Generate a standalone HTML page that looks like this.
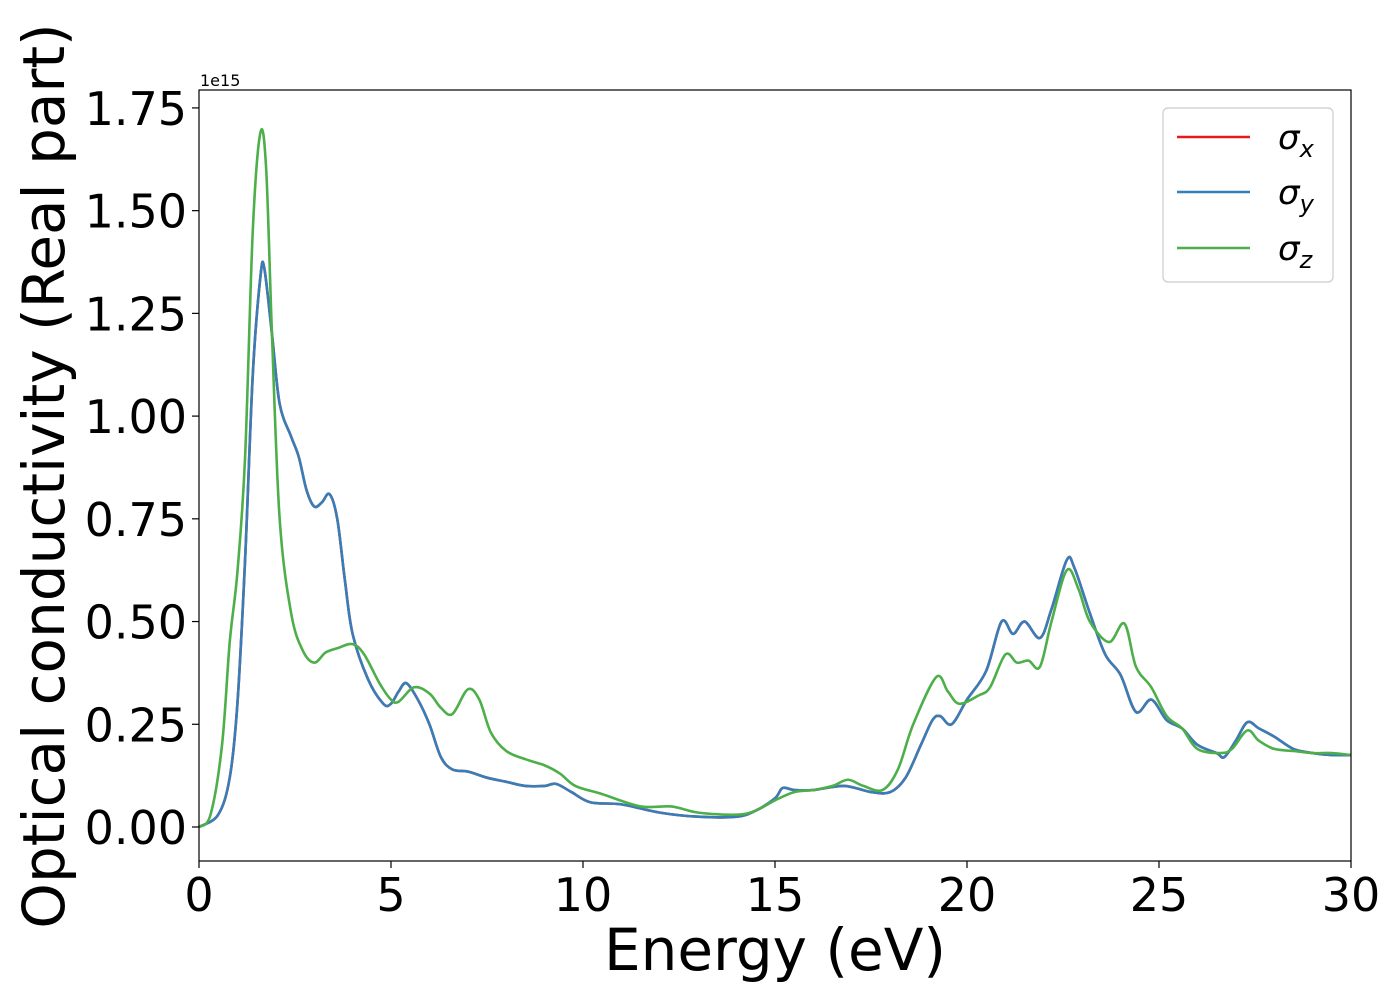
<!DOCTYPE html>
<html><head><meta charset="utf-8"><style>body{margin:0;background:#fff}</style></head>
<body>
<svg id="chart" width="1400" height="1000" xmlns="http://www.w3.org/2000/svg" font-family="DejaVu Sans, Liberation Sans, sans-serif"></svg>
<script>
const energyX=[0,0.5,0.8,1.0,1.2,1.4,1.6,1.7,1.9,2.1,2.4,2.6,2.8,3.0,3.2,3.4,3.6,3.8,4.0,4.4,4.8,5.0,5.2,5.4,5.7,6.0,6.3,6.6,7.0,7.5,8.0,8.5,9.0,9.3,9.7,10.2,11,12,13,14,14.5,15,15.2,15.5,16,16.8,17.5,18,18.4,18.8,19.1,19.3,19.6,20.0,20.5,20.9,21.2,21.5,21.9,22.2,22.6,22.8,23.2,23.6,24.0,24.4,24.8,25.2,25.6,26.0,26.5,26.7,27.0,27.3,27.6,28,28.5,29,29.5,30];
const sigmaXY=[0,0.03,0.12,0.3,0.65,1.1,1.34,1.36,1.2,1.03,0.95,0.9,0.82,0.78,0.79,0.81,0.75,0.6,0.47,0.36,0.3,0.3,0.33,0.35,0.31,0.25,0.17,0.14,0.135,0.12,0.11,0.1,0.1,0.105,0.085,0.06,0.055,0.035,0.025,0.025,0.04,0.07,0.095,0.09,0.09,0.1,0.085,0.085,0.12,0.2,0.26,0.27,0.25,0.31,0.38,0.5,0.47,0.5,0.46,0.53,0.65,0.63,0.52,0.42,0.37,0.28,0.31,0.26,0.24,0.2,0.18,0.17,0.21,0.255,0.24,0.22,0.19,0.18,0.175,0.175];
const energyZ=[0,0.3,0.6,0.8,1.0,1.2,1.4,1.6,1.75,1.9,2.1,2.4,2.7,3.0,3.3,3.6,4.0,4.3,4.7,5.0,5.2,5.6,6.0,6.3,6.6,7.0,7.3,7.6,8.0,8.5,9.0,9.4,9.8,10.5,11.5,12.3,13,14,14.5,15,15.5,16,16.5,16.9,17.3,17.8,18.2,18.6,19.2,19.5,19.8,20.3,20.6,21.0,21.3,21.6,21.9,22.2,22.6,22.9,23.2,23.7,24.1,24.4,24.8,25.2,25.6,26.0,26.6,26.9,27.3,27.6,28,28.5,29,29.5,30];
const sigmaZ=[0,0.03,0.2,0.45,0.62,0.9,1.45,1.69,1.6,1.2,0.75,0.52,0.43,0.4,0.425,0.435,0.445,0.42,0.35,0.31,0.305,0.34,0.325,0.29,0.275,0.335,0.31,0.23,0.185,0.165,0.15,0.13,0.1,0.08,0.05,0.05,0.035,0.03,0.04,0.065,0.085,0.09,0.1,0.115,0.1,0.09,0.14,0.25,0.365,0.33,0.3,0.32,0.34,0.42,0.4,0.405,0.39,0.5,0.625,0.58,0.5,0.45,0.495,0.39,0.34,0.27,0.24,0.19,0.18,0.19,0.235,0.21,0.19,0.185,0.18,0.18,0.175];
const xTicks=[0,5,10,15,20,25,30];
const yTicks=[0,0.25,0.5,0.75,1.0,1.25,1.5,1.75];

const L=199,R=1351,T=90,B=861;
const sx=v=>L+(v-0)/(30-0)*(R-L);
const sy=v=>827-v*410.9;
const svg=document.getElementById('chart');
const NS='http://www.w3.org/2000/svg';
function mk(tag,attrs,parent){const e=document.createElementNS(NS,tag);for(const k in attrs)e.setAttribute(k,attrs[k]);(parent||svg).appendChild(e);return e;}
function pathD(xs,ys){const p=xs.map((x,i)=>[sx(x),sy(ys[i])]);let d='M'+p[0][0]+','+p[0][1];
 for(let i=0;i<p.length-1;i++){const p0=p[Math.max(i-1,0)],p1=p[i],p2=p[i+1],p3=p[Math.min(i+2,p.length-1)];
 d+=` C${p1[0]+(p2[0]-p0[0])/6},${p1[1]+(p2[1]-p0[1])/6} ${p2[0]-(p3[0]-p1[0])/6},${p2[1]-(p3[1]-p1[1])/6} ${p2[0]},${p2[1]}`;}return d;}

[['sigma-x-line','#e41a1c',energyX,sigmaXY],['sigma-y-line','#377eb8',energyX,sigmaXY],['sigma-z-line','#4daf4a',energyZ,sigmaZ]].forEach(s=>{
 const p=mk('path',{d:pathD(s[2],s[3]),fill:'none',stroke:s[1],'stroke-width':2.6});
 
 
});
const frame=mk('rect',{x:L,y:T,width:R-L,height:B-T,fill:'none',stroke:'#000','stroke-width':1.2});


xTicks.forEach(t=>{
 const l=mk('line',{x1:sx(t),x2:sx(t),y1:B,y2:B+7,stroke:'#000','stroke-width':1.2});
 
 
 const tx=mk('text',{x:sx(t),y:B+50,'font-size':46,'text-anchor':'middle'});tx.textContent=t;
 
 
});
yTicks.forEach(t=>{
 const l=mk('line',{x1:L-7,x2:L,y1:sy(t),y2:sy(t),stroke:'#000','stroke-width':1.2});
 
 
 const tx=mk('text',{x:L-12,y:sy(t)+17,'font-size':46,'text-anchor':'end'});tx.textContent=t.toFixed(2);
 
 
});
const off=mk('text',{x:200,y:86,'font-size':16});off.textContent='1e15';


const xt=mk('text',{x:775,y:970,'font-size':58,'text-anchor':'middle'});xt.textContent='Energy (eV)';


const yt=mk('text',{x:0,y:0,'font-size':58,'text-anchor':'middle',transform:'translate(64,476) rotate(-90)'});yt.textContent='Optical conductivity (Real part)';


const lg=mk('g',{});


mk('rect',{x:1163,y:108,width:170,height:174,rx:5,fill:'#fff',stroke:'#ccc','stroke-width':1.2},lg);
[['x','#e41a1c',137],['y','#377eb8',192],['z','#4daf4a',248]].forEach(e=>{
 const g=mk('g',{},lg);
 
 
 mk('line',{x1:1177,x2:1250,y1:e[2],y2:e[2],stroke:e[1],'stroke-width':2.6},g);
 const t=mk('text',{x:1278,y:e[2]+12,'font-size':34,'font-style':'italic'},g);
 t.textContent='σ';
 const s=mk('tspan',{'font-size':24,dy:8},t);s.textContent=e[0];
});
</script>
</body></html>
